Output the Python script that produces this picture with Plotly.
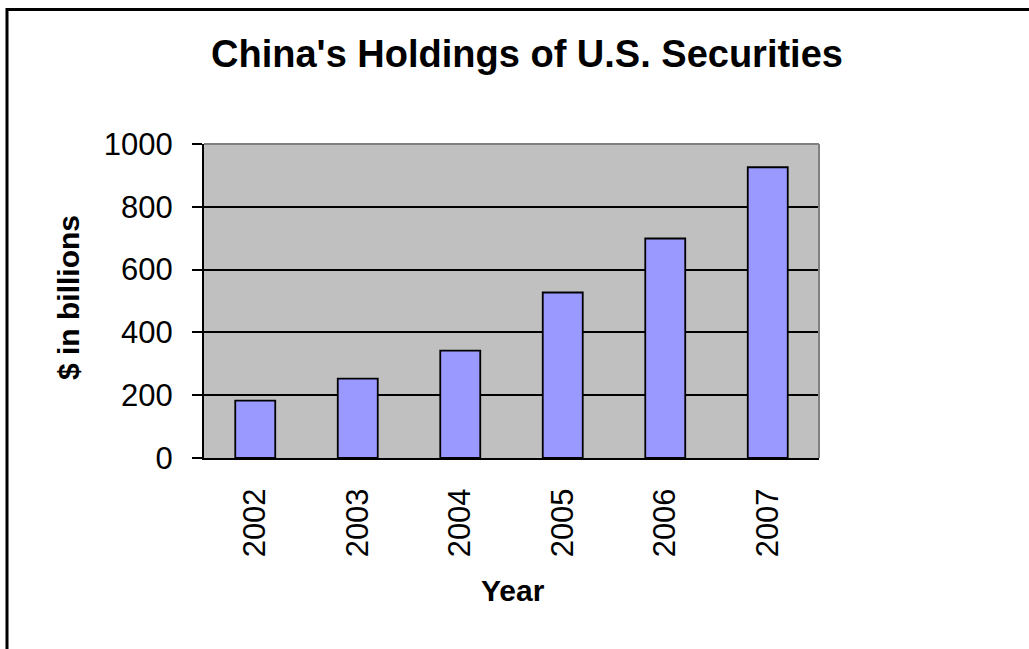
import plotly.graph_objects as go

years = ["2002", "2003", "2004", "2005", "2006", "2007"]
holdings = [183, 253, 342, 527, 699, 926]
y_ticks = [0, 200, 400, 600, 800, 1000]

FONT = "Liberation Sans, Arial, sans-serif"

fig = go.Figure()
fig.add_trace(go.Bar(
    x=years, y=holdings,
    marker=dict(color="#9999FF", line=dict(color="black", width=1.8)),
    showlegend=False,
))

W, H = 1029, 649
L, R, T, B = 204, 819, 144, 458
pw, ph = R - L, B - T

def px(xp):
    return (xp - L) / pw

def py(yp):
    return (B - yp) / ph

fig.update_layout(
    width=W, height=H,
    margin=dict(l=L, r=W - R, t=T, b=H - B, pad=0),
    paper_bgcolor="white",
    plot_bgcolor="#C0C0C0",
    bargap=0.61,
    font=dict(family=FONT, color="black"),
    title=dict(text="<b>China's Holdings of U.S. Securities</b>",
               font=dict(size=38, family=FONT, color="black"),
               x=px(527), xref="paper", xanchor="center",
               y=1 - 54 / H, yref="container", yanchor="middle"),
    xaxis=dict(
        type="category",
        showgrid=False, showline=True, linecolor="black", linewidth=2,
        ticks="", tickangle=-90, ticklabelstandoff=16,
        tickfont=dict(size=31, family=FONT, color="black"),
    ),
    yaxis=dict(
        range=[0, 1000], tickvals=y_ticks,
        showgrid=True, gridcolor="black", gridwidth=1.8,
        zeroline=False,
        showline=True, linecolor="black", linewidth=2,
        ticks="outside", ticklen=10, tickwidth=2, tickcolor="black",
        ticklabelstandoff=13,
        tickfont=dict(size=31, family=FONT, color="black"),
    ),
    annotations=[
        dict(text="<b>$ in billions</b>", textangle=-90, showarrow=False,
             xref="paper", yref="paper", x=px(68), y=py(298),
             xanchor="center", yanchor="middle",
             font=dict(size=30, family=FONT, color="black")),
        dict(text="<b>Year</b>", showarrow=False,
             xref="paper", yref="paper", x=px(513), y=py(590),
             xanchor="center", yanchor="middle",
             font=dict(size=30, family=FONT, color="black")),
    ],
    shapes=[
        # outer chart border
        dict(type="rect", xref="paper", yref="paper",
             x0=px(7), x1=px(1060), y0=py(680), y1=py(9.5),
             line=dict(color="black", width=3), fillcolor="rgba(0,0,0,0)",
             layer="below"),
        # grey top and right plot-area border
        dict(type="line", xref="paper", yref="paper", x0=0, x1=1, y0=1, y1=1,
             line=dict(color="#808080", width=2), layer="above"),
        dict(type="line", xref="paper", yref="paper", x0=1, x1=1, y0=0, y1=1,
             line=dict(color="#808080", width=2), layer="above"),
    ],
)

fig.write_html("out.html")
